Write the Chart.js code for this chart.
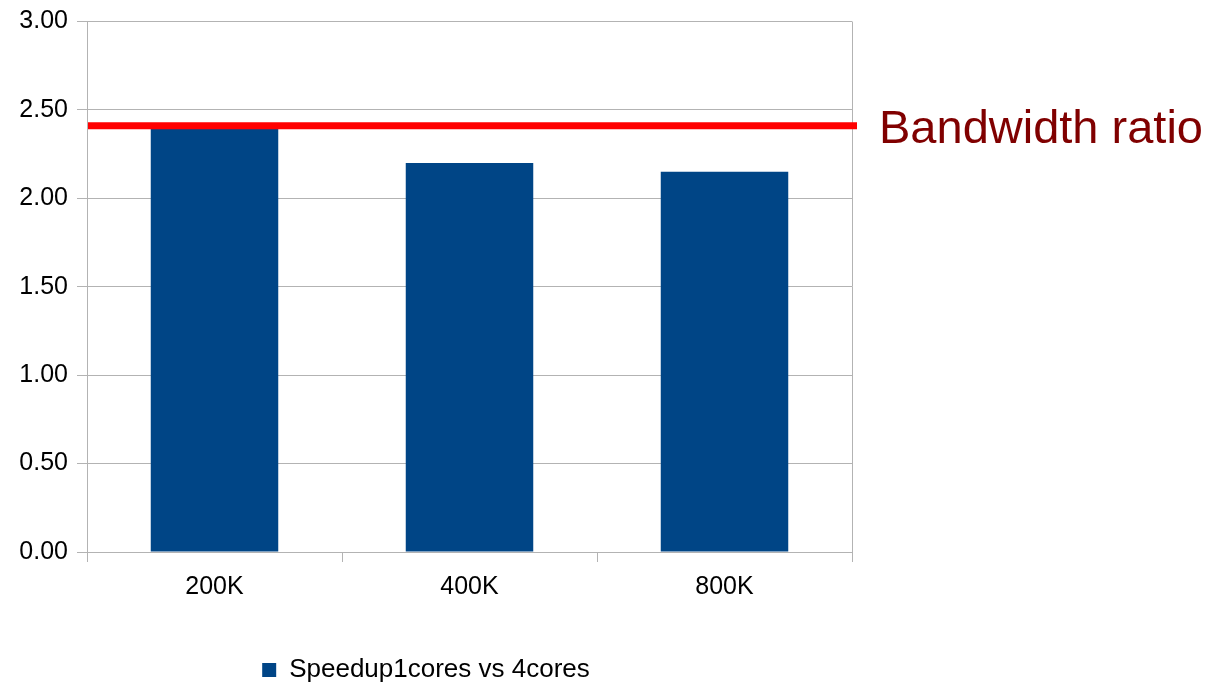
<!DOCTYPE html>
<html>
<head>
<meta charset="utf-8">
<script src="https://cdn.jsdelivr.net/npm/chart.js@4/dist/chart.umd.min.js"></script>
<style>
  html, body { margin: 0; padding: 0; background: #fff; }
  #wrap { width: 1211px; height: 683px; }
</style>
</head>
<body>
<div id="wrap"><canvas id="speedup-chart"></canvas></div>
<script>
// data
const categories = ["200K", "400K", "800K"];
const speedup = [2.40, 2.20, 2.15];
const seriesLabel = "Speedup1cores vs 4cores";
const bandwidthRatio = 2.41;
const yTicks = [0, 0.5, 1, 1.5, 2, 2.5, 3];

const gridGray = "#b3b3b3";

// red reference line + label, and the right border of the plot
const ratioLine = {
  id: "ratioLine",
  beforeDatasetsDraw(chart) {
    const ctx = chart.ctx, a = chart.chartArea;
    ctx.save();
    ctx.strokeStyle = gridGray;
    ctx.lineWidth = 1;
    ctx.beginPath();
    ctx.moveTo(Math.round(a.right) + 0.5, a.top);
    ctx.lineTo(Math.round(a.right) + 0.5, a.bottom);
    ctx.stroke();
    ctx.restore();
  },
  afterDatasetsDraw(chart) {
    const ctx = chart.ctx, a = chart.chartArea;
    const y = chart.scales.y.getPixelForValue(bandwidthRatio);
    ctx.save();
    ctx.strokeStyle = "#ff0000";
    ctx.lineWidth = 7;
    ctx.beginPath();
    ctx.moveTo(a.left + 1, y);
    ctx.lineTo(a.right + 5, y);
    ctx.stroke();
    ctx.fillStyle = "#800000";
    ctx.font = "47px 'Liberation Sans', Arial, sans-serif";
    ctx.textBaseline = "alphabetic";
    ctx.fillText("Bandwidth ratio", a.right + 27, y + 17);
    ctx.restore();
  }
};

new Chart(document.getElementById("speedup-chart"), {
  type: "bar",
  data: {
    labels: categories,
    datasets: [{
      label: seriesLabel,
      data: speedup,
      backgroundColor: "#004586",
      borderWidth: 0,
      barPercentage: 0.5,
      categoryPercentage: 1.0
    }]
  },
  options: {
    responsive: true,
    maintainAspectRatio: false,
    animation: false,
    layout: { padding: { left: 0, right: 359, top: 17, bottom: -10 } },
    plugins: {
      tooltip: { enabled: false },
      legend: {
        position: "bottom",
        labels: {
          boxWidth: 14,
          boxHeight: 14,
          padding: 1,
          color: "#000",
          font: { family: "'Liberation Sans', Arial, sans-serif", size: 26, lineHeight: 1 }
        }
      }
    },
    scales: {
      x: {
        grid: { drawOnChartArea: false, color: gridGray, tickLength: 10, offset: true },
        border: { color: gridGray },
        ticks: {
          color: "#000",
          padding: 10,
          font: { family: "'Liberation Sans', Arial, sans-serif", size: 25 }
        },
        afterFit(scale) { scale.height = 104; }
      },
      y: {
        min: 0,
        max: 3,
        afterBuildTicks(scale) { scale.ticks = yTicks.map(v => ({ value: v })); },
        grid: { color: gridGray, tickLength: 10 },
        border: { color: gridGray },
        ticks: {
          color: "#000",
          padding: 9,
          font: { family: "'Liberation Sans', Arial, sans-serif", size: 25, lineHeight: 1 },
          callback: v => Number(v).toFixed(2)
        },
        afterFit(scale) { scale.width = 87; }
      }
    }
  },
  plugins: [ratioLine]
});
</script>
</body>
</html>
